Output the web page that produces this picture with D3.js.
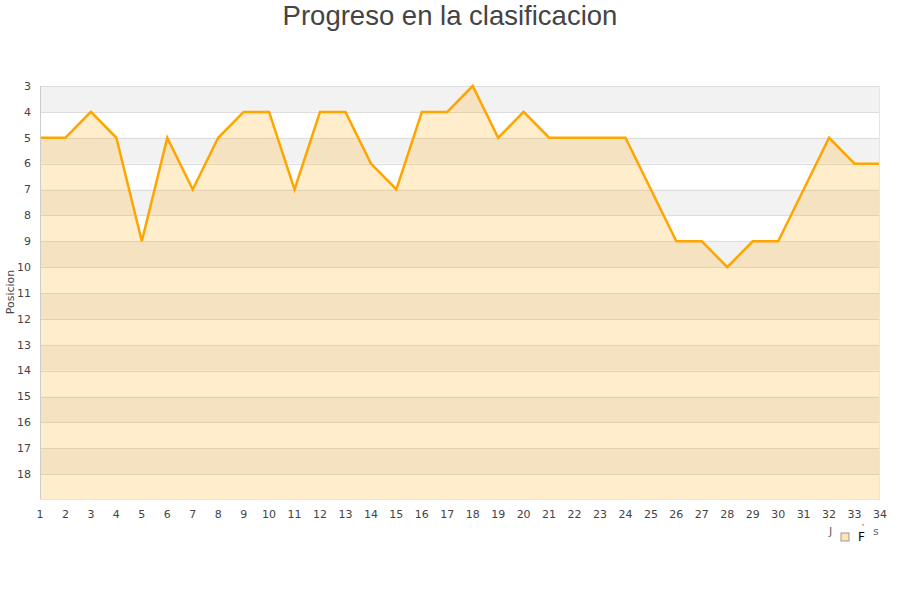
<!DOCTYPE html>
<html>
<head>
<meta charset="utf-8">
<script src="https://cdn.jsdelivr.net/npm/d3@7"></script>
<style>
    body { margin: 0; background: #fff; }
    svg { display: block; }
</style>
</head>
<body>
<div id="chart"></div>
<script>
// jornadas (x axis) and league position per jornada
var jornadas = [1, 2, 3, 4, 5, 6, 7, 8, 9, 10, 11, 12, 13, 14, 15, 16, 17,
                18, 19, 20, 21, 22, 23, 24, 25, 26, 27, 28, 29, 30, 31, 32, 33, 34];
var posiciones = [5, 5, 4, 5, 9, 5, 7, 5, 4, 4, 7, 4, 4, 6, 7, 4, 4,
                  3, 5, 4, 5, 5, 5, 5, 7, 9, 9, 10, 9, 9, 7, 5, 6, 6];
var yTicks = [3, 4, 5, 6, 7, 8, 9, 10, 11, 12, 13, 14, 15, 16, 17, 18];
var titulo = "Progreso en la clasificacion";
var ejeY = "Posicion";

var width = 900, height = 600;
var plotLeft = 40, plotRight = 880, plotTop = 86, plotBottom = 500;

var svg = d3.select('#chart')
    .append('svg')
    .attr('width', width)
    .attr('height', height);

var x = d3.scaleLinear().domain([1, 34]).range([plotLeft, plotRight]);
var y = d3.scaleLinear().domain([3, 19]).range([plotTop, plotBottom]);

// alternating bands
var bands = d3.range(3, 19);
svg.selectAll("rect.band")
    .data(bands)
    .enter()
    .append("rect")
    .attr("class", "band")
    .attr("x", plotLeft)
    .attr("width", plotRight - plotLeft)
    .attr("y", function(d) { return y(d); })
    .attr("height", function(d) { return y(d + 1) - y(d); })
    .attr("fill", function(d) { return (d % 2 == 1) ? "#f2f2f2" : "#ffffff"; });

// grid lines
svg.selectAll("line.grid")
    .data(d3.range(3, 19))
    .enter()
    .append("line")
    .attr("class", "grid")
    .attr("x1", plotLeft)
    .attr("x2", plotRight)
    .attr("y1", function(d) { return Math.round(y(d)) + 0.5; })
    .attr("y2", function(d) { return Math.round(y(d)) + 0.5; })
    .attr("stroke", "#dddddd")
    .attr("stroke-width", 1);

var points = jornadas.map(function(j, i) { return [j, posiciones[i]]; });

// area under the line
var area = d3.area()
    .x(function(d) { return x(d[0]); })
    .y0(y(19))
    .y1(function(d) { return y(d[1]); });

svg.append("path")
    .datum(points)
    .attr("d", area)
    .attr("fill", "orange")
    .attr("fill-opacity", 0.2);

var line = d3.line()
    .x(function(d) { return x(d[0]); })
    .y(function(d) { return y(d[1]); });

svg.append("path")
    .datum(points)
    .attr("d", line)
    .attr("fill", "none")
    .attr("stroke", "#ffa500")
    .attr("stroke-width", 2.5)
    .attr("stroke-linejoin", "miter");

// axes frame
svg.append("line")
    .attr("x1", plotLeft + 0.5).attr("x2", plotLeft + 0.5)
    .attr("y1", plotTop).attr("y2", plotBottom)
    .attr("stroke", "#cccccc");
svg.append("line")
    .attr("x1", plotRight - 0.5).attr("x2", plotRight - 0.5)
    .attr("y1", plotTop).attr("y2", plotBottom)
    .attr("stroke", "#e6e6e6");
svg.append("line")
    .attr("x1", plotLeft).attr("x2", plotRight)
    .attr("y1", plotBottom - 0.5).attr("y2", plotBottom - 0.5)
    .attr("stroke", "#e6e6e6");

// y tick labels
svg.selectAll("text.ytick")
    .data(yTicks)
    .enter()
    .append("text")
    .attr("class", "ytick")
    .attr("x", 31)
    .attr("y", function(d) { return y(d); })
    .attr("dy", ".35em")
    .attr("text-anchor", "end")
    .attr("font-family", "DejaVu Sans, sans-serif")
    .attr("font-size", "11px")
    .attr("fill", "#444")
    .text(function(d) { return d; });

// x tick labels
svg.selectAll("text.xtick")
    .data(jornadas)
    .enter()
    .append("text")
    .attr("class", "xtick")
    .attr("x", function(d) { return x(d); })
    .attr("y", 518)
    .attr("text-anchor", "middle")
    .attr("font-family", "DejaVu Sans, sans-serif")
    .attr("font-size", "11px")
    .attr("fill", "#444")
    .text(function(d) { return d; });

// y axis title
svg.append("text")
    .attr("transform", "translate(14,292) rotate(-90)")
    .attr("text-anchor", "middle")
    .attr("font-family", "DejaVu Sans, sans-serif")
    .attr("font-size", "11px")
    .attr("fill", "#444")
    .text(ejeY);

// title
svg.append("text")
    .attr("x", width / 2)
    .attr("y", 25)
    .attr("text-anchor", "middle")
    .attr("font-family", "Liberation Sans, Arial, sans-serif")
    .attr("font-size", "27.5px")
    .attr("fill", "#444")
    .text(titulo);

// legend (broken glyphs as in the original)
var legend = svg.append("g");
legend.append("text")
    .attr("x", 829).attr("y", 535)
    .attr("font-family", "DejaVu Sans, sans-serif")
    .attr("font-size", "11px")
    .attr("fill", "#666")
    .text("J");
legend.append("rect")
    .attr("x", 841).attr("y", 533)
    .attr("width", 8).attr("height", 8)
    .attr("fill", "#ffe4b5")
    .attr("stroke", "#999")
    .attr("stroke-width", 1);
legend.append("text")
    .attr("x", 858).attr("y", 541)
    .attr("font-family", "DejaVu Sans, sans-serif")
    .attr("font-size", "12px")
    .attr("fill", "#000")
    .text("F");
legend.append("text")
    .attr("x", 862).attr("y", 529)
    .attr("font-family", "DejaVu Sans, sans-serif")
    .attr("font-size", "7px")
    .attr("fill", "#000")
    .text("'");
legend.append("text")
    .attr("x", 873).attr("y", 535)
    .attr("font-family", "DejaVu Sans, sans-serif")
    .attr("font-size", "11px")
    .attr("fill", "#666")
    .text("s");
</script>
</body>
</html>
